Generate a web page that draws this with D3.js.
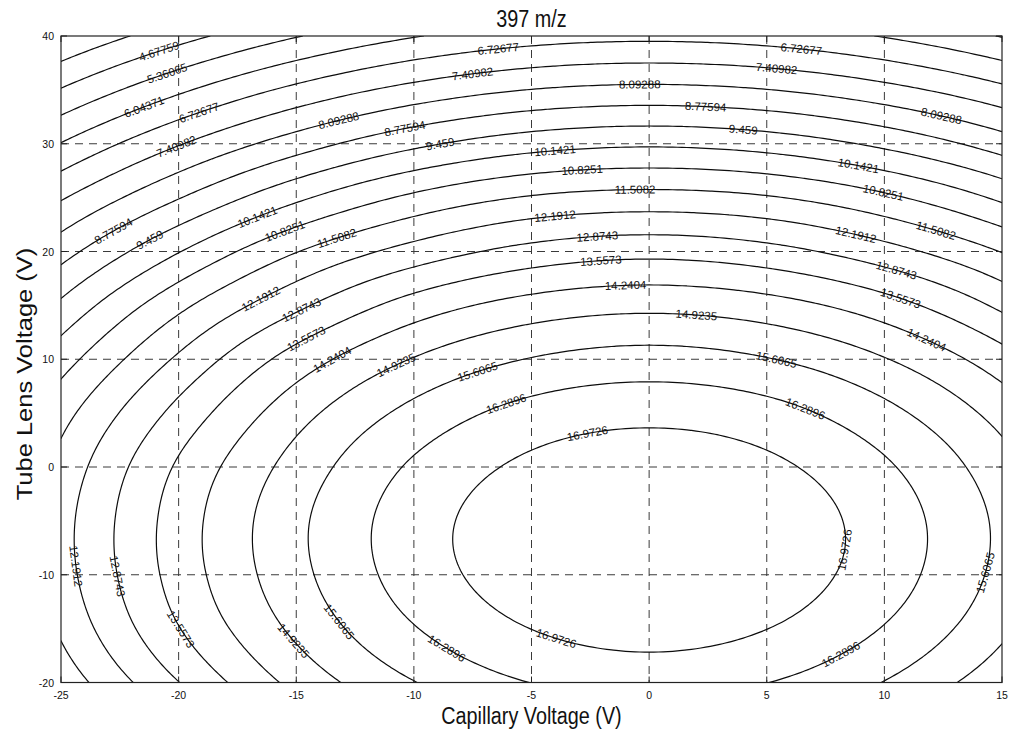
<!DOCTYPE html>
<html><head><meta charset="utf-8">
<script src="https://cdn.jsdelivr.net/npm/d3@7"></script>
<style>
body{margin:0;background:#fff;}
text{font-family:"Liberation Sans",Arial,Helvetica,sans-serif;fill:#111;}
</style></head><body>
<svg id="chart" width="1011" height="730"></svg>
<script>
// ---- data ----
const xValues = [-25, -20, -15, -10, -5, 0, 5, 10, 15];
const yValues = [40, 35, 30, 25, 20, 15, 10, 5, 0, -5, -10, -15, -20];
const zRows = [
  [3.34, 4.42, 5.32, 6.00, 6.42, 6.56, 6.42, 6.00, 5.32],
  [4.72, 5.92, 6.90, 7.64, 8.11, 8.27, 8.11, 7.64, 6.90],
  [6.07, 7.36, 8.44, 9.30, 9.85, 10.04, 9.85, 9.30, 8.44],
  [7.34, 8.74, 10.00, 10.97, 11.57, 11.76, 11.57, 10.97, 10.00],
  [8.50, 10.11, 11.48, 12.46, 13.11, 13.35, 13.11, 12.46, 11.48],
  [9.59, 11.33, 12.72, 13.85, 14.51, 14.74, 14.51, 13.85, 12.72],
  [10.53, 12.30, 13.85, 14.96, 15.64, 15.88, 15.64, 14.96, 13.85],
  [11.26, 13.09, 14.66, 15.81, 16.54, 16.78, 16.54, 15.81, 14.66],
  [11.72, 13.65, 15.19, 16.39, 17.12, 17.37, 17.12, 16.39, 15.19],
  [11.94, 13.88, 15.45, 16.66, 17.39, 17.64, 17.39, 16.66, 15.45],
  [11.90, 13.84, 15.40, 16.61, 17.34, 17.59, 17.34, 16.61, 15.40],
  [11.61, 13.53, 15.07, 16.25, 16.98, 17.23, 16.98, 16.25, 15.07],
  [11.06, 12.86, 14.44, 15.58, 16.30, 16.55, 16.30, 15.58, 14.44]
];
const contourLevels = [3.99453, 4.67759, 5.36065, 6.04371, 6.72677, 7.40982, 8.09288, 8.77594, 9.459,
  10.1421, 10.8251, 11.5082, 12.1912, 12.8743, 13.5573, 14.2404, 14.9235, 15.6065, 16.2896, 16.9726];
const labelText = ["4.67759","5.36065","6.04371","6.72677","7.40982","8.09288","8.77594","9.459","10.1421","10.8251","11.5082",
  "6.72677","7.40982","8.09288","8.77594","9.459","10.1421","10.8251","11.5082","12.1912","12.8743",
  "6.72677","7.40982","8.77594","9.459","8.09288","10.1421","10.8251","11.5082","12.1912",
  "12.1912","12.8743","13.5573","14.2404","13.5573","14.2404","14.9235","15.6065","16.2896","16.9726",
  "14.9235","12.8743","13.5573","14.2404","15.6065","16.2896",
  "12.1912","12.8743","13.5573","14.9235","15.6065","16.2896","16.9726","16.9726","15.6065","16.2896"];
const labelX = [-20.8,-20.5,-21.45,-19.15,-20.1,-13.2,-22.8,-21.3,-16.7,-15.5,-13.3,
  -6.4,-7.5,-0.4,-10.4,-8.9,-4.0,-2.85,-0.6,-4.0,-2.2,
  6.45,5.4,2.4,4.0,12.4,8.9,9.95,12.2,8.8,
  -16.5,-14.8,-14.55,-13.4,-2.05,-1.0,-10.7,-7.3,-6.05,-2.6,
  2.0,10.5,10.65,11.75,5.4,6.6,
  -24.4,-22.55,-19.8,-15.05,-13.15,-8.6,-3.95,8.05,14.3,8.2];
const labelY = [38.4,36.6,33.3,33.0,29.8,32.2,22.0,21.4,23.45,22.0,21.4,
  38.5,36.4,35.55,31.65,30.2,29.4,27.7,25.9,23.4,21.4,
  38.4,36.6,33.5,31.3,32.35,28.0,25.4,22.0,21.7,
  15.6,14.7,11.8,9.7,19.1,16.7,9.2,8.9,5.65,2.85,
  13.9,18.15,15.4,11.6,9.9,5.2,
  -9.2,-10.1,-14.9,-16.0,-14.3,-16.8,-15.9,-7.6,-9.8,-17.6];
const xTicks = [-25, -20, -15, -10, -5, 0, 5, 10, 15];
const yTicks = [-20, -10, 0, 10, 20, 30, 40];
const titleText = "397 m/z";
const xTitle = "Capillary Voltage (V)";
const yTitle = "Tube Lens Voltage (V)";

// ---- layout ----
const plot = {left: 61, right: 1002, top: 36, bottom: 682.5};
const xScale = d3.scaleLinear().domain([xTicks[0], xTicks[xTicks.length-1]]).range([plot.left, plot.right]);
const yScale = d3.scaleLinear().domain([yTicks[0], yTicks[yTicks.length-1]]).range([plot.bottom, plot.top]);
const svg = d3.select("#chart");

// ---- smooth surface through the read grid (Catmull-Rom) ----
const nC = xValues.length, nR = yValues.length;
function node(r, c) {
  if (c < 0) return 3*node(r,0) - 3*node(r,1) + node(r,2);
  if (c >= nC) return 3*node(r,nC-1) - 3*node(r,nC-2) + node(r,nC-3);
  if (r < 0) return 3*node(0,c) - 3*node(1,c) + node(2,c);
  if (r >= nR) return 3*node(nR-1,c) - 3*node(nR-2,c) + node(nR-3,c);
  return zRows[r][c];
}
function cr(p0,p1,p2,p3,t){ return 0.5*((2*p1)+(-p0+p2)*t+(2*p0-5*p1+4*p2-p3)*t*t+(-p0+3*p1-3*p2+p3)*t*t*t); }
function surf(x, y) {
  const fx = (x - xValues[0]) / (xValues[1] - xValues[0]);
  const fy = (y - yValues[0]) / (yValues[1] - yValues[0]);
  let c = Math.max(0, Math.min(nC-2, Math.floor(fx)));
  let r = Math.max(0, Math.min(nR-2, Math.floor(fy)));
  const tx = fx - c, ty = fy - r;
  const col = [];
  for (let k = -1; k <= 2; k++) col.push(cr(node(r+k,c-1), node(r+k,c), node(r+k,c+1), node(r+k,c+2), tx));
  return cr(col[0], col[1], col[2], col[3], ty);
}

const xMin = d3.min(xValues), xMax = d3.max(xValues), yMin = d3.min(yValues), yMax = d3.max(yValues);
const h = 0.2, pad = 2;
const nx = Math.round((xMax - xMin)/h) + 1 + 2*pad;
const ny = Math.round((yMax - yMin)/h) + 1 + 2*pad;
const vals = new Array(nx*ny);
for (let j = 0; j < ny; j++) {
  const y = Math.max(yMin, Math.min(yMax, yMax - (j - pad)*h));
  for (let i = 0; i < nx; i++) {
    const x = Math.max(xMin, Math.min(xMax, xMin + (i - pad)*h));
    vals[j*nx + i] = surf(x, y);
  }
}
const contours = d3.contours().size([nx, ny]).thresholds(contourLevels)(vals);
const proj = d3.geoTransform({point(px, py) {
  const x = xMin + (px - 0.5 - pad)*h, y = yMax - (py - 0.5 - pad)*h;
  this.stream.point(xScale(x), yScale(y));
}});
const path = d3.geoPath(proj);

svg.append("rect").attr("width", 1011).attr("height", 730).attr("fill", "#fff");
svg.append("defs").append("clipPath").attr("id", "clip").append("rect")
  .attr("x", plot.left).attr("y", plot.top).attr("width", plot.right - plot.left).attr("height", plot.bottom - plot.top);

// grid
const gGrid = svg.append("g").attr("stroke", "#3a3a3a").attr("stroke-width", 1).attr("stroke-dasharray", "8,6").attr("fill", "none");
gGrid.selectAll("line.v").data(xTicks.slice(1, -1)).join("line")
  .attr("x1", d => xScale(d)).attr("x2", d => xScale(d)).attr("y1", plot.top).attr("y2", plot.bottom);
gGrid.selectAll("line.h").data(yTicks.slice(1, -1)).join("line")
  .attr("y1", d => yScale(d)).attr("y2", d => yScale(d)).attr("x1", plot.left).attr("x2", plot.right);

// contour lines
svg.append("g").attr("clip-path", "url(#clip)")
  .selectAll("path").data(contours).join("path")
  .attr("d", path).attr("fill", "none").attr("stroke", "#0d0d0d").attr("stroke-width", 1.2);

// frame and ticks
svg.append("rect").attr("x", plot.left).attr("y", plot.top).attr("width", plot.right - plot.left)
  .attr("height", plot.bottom - plot.top).attr("fill", "none").attr("stroke", "#222").attr("stroke-width", 1.2);
const gT = svg.append("g").attr("stroke", "#222").attr("stroke-width", 1);
xTicks.forEach(t => {
  gT.append("line").attr("x1", xScale(t)).attr("x2", xScale(t)).attr("y1", plot.bottom).attr("y2", plot.bottom - 6);
  gT.append("line").attr("x1", xScale(t)).attr("x2", xScale(t)).attr("y1", plot.top).attr("y2", plot.top + 6);
});
yTicks.forEach(t => {
  gT.append("line").attr("y1", yScale(t)).attr("y2", yScale(t)).attr("x1", plot.left).attr("x2", plot.left + 6);
  gT.append("line").attr("y1", yScale(t)).attr("y2", yScale(t)).attr("x1", plot.right).attr("x2", plot.right - 6);
});
svg.append("g").selectAll("text").data(xTicks).join("text")
  .attr("x", d => xScale(d)).attr("y", plot.bottom + 16).attr("text-anchor", "middle")
  .attr("font-size", 10.5).text(d => d);
svg.append("g").selectAll("text").data(yTicks).join("text")
  .attr("x", plot.left - 7).attr("y", d => yScale(d) + 4).attr("text-anchor", "end")
  .attr("font-size", 10.5).text(d => d);

// titles
svg.append("text").attr("transform", `translate(${(plot.left+plot.right)/2},27) scale(1,1.18)`)
  .attr("text-anchor", "middle").attr("font-size", 19.8).text(titleText);
svg.append("text").attr("transform", `translate(${(plot.left+plot.right)/2},724) scale(1,1.18)`)
  .attr("text-anchor", "middle").attr("font-size", 19.8).text(xTitle);
svg.append("text").attr("transform", `translate(32,374) scale(1,1.18) rotate(-90)`)
  .attr("text-anchor", "middle").attr("font-size", 21.6).text(yTitle);

// contour labels placed on their lines
const kx = (xScale(1) - xScale(0)), ky = (yScale(0) - yScale(1));
function gradPx(x, y) {
  const e = 0.01;
  const gx = (surf(x+e,y) - surf(x-e,y))/(2*e), gy = (surf(x,y+e) - surf(x,y-e))/(2*e);
  return [gx/kx, -gy/ky];
}
const gL = svg.append("g").attr("clip-path", "url(#clip)");
labelText.forEach((t, i) => {
  const L = +t;
  let px = xScale(labelX[i]), py = yScale(labelY[i]);
  for (let k = 0; k < 6; k++) {
    const x = xScale.invert(px), y = yScale.invert(py);
    const dz = surf(x, y) - L;
    const [a, b] = gradPx(x, y);
    const g2 = a*a + b*b;
    if (g2 < 1e-12) break;
    px -= dz*a/g2; py -= dz*b/g2;
  }
  const [a, b] = gradPx(xScale.invert(px), yScale.invert(py));
  let ang = Math.atan2(-a, b) * 180 / Math.PI;
  if (ang > 90) ang -= 180;
  if (ang <= -90) ang += 180;
  gL.append("text").attr("transform", `translate(${px},${py}) rotate(${ang})`)
    .attr("text-anchor", "middle").attr("dy", "0.35em").attr("font-size", 11.5).text(t);
});
</script>
</body></html>
